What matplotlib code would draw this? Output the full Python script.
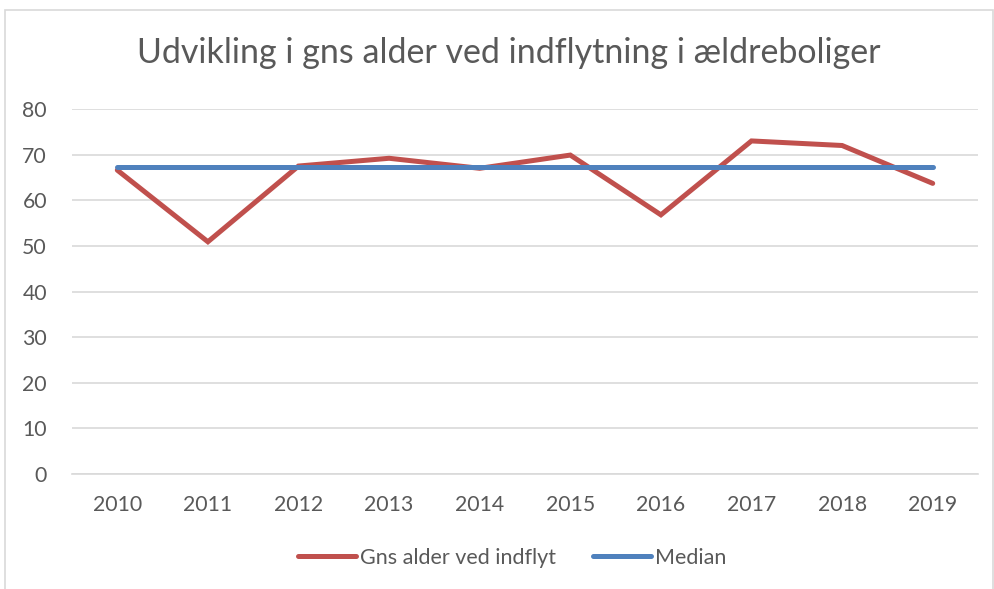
import matplotlib.pyplot as plt
from matplotlib.patches import Rectangle

years = ['2010', '2011', '2012', '2013', '2014', '2015', '2016', '2017', '2018', '2019']
gns_alder = [66.6, 50.9, 67.5, 69.2, 67.0, 69.9, 56.8, 73.0, 72.0, 63.7]
median = [67.2] * len(years)

plt.rcParams['font.family'] = ['Lato', 'DejaVu Sans']

fig = plt.figure(figsize=(9.94, 5.89), dpi=100)
ax = fig.add_axes([72 / 994, 1 - 474 / 589, 906 / 994, 365 / 589])

# chart border
fig.patches.append(Rectangle((5 / 994, -0.01), 988 / 994, 1 - 10 / 589 + 0.01,
                             transform=fig.transFigure, fill=False,
                             edgecolor='#d9d9d9', linewidth=1.2))

x = range(len(years))
ax.plot(x, gns_alder, color='#c0504d', linewidth=3.6, label='Gns alder ved indflyt',
        solid_capstyle='round', solid_joinstyle='miter')
ax.plot(x, median, color='#4f81bd', linewidth=3.6, label='Median', solid_capstyle='round')

ax.set_xlim(-0.5, len(years) - 0.5)
ax.set_ylim(0, 80)
ax.set_yticks(range(0, 81, 10))
ax.set_xticks(list(x))
ax.set_xticklabels(years)
ax.grid(axis='y', color='#d9d9d9', linewidth=1.2)
ax.set_axisbelow(True)
for s in ['top', 'right', 'left']:
    ax.spines[s].set_visible(False)
ax.spines['bottom'].set_color('#d9d9d9')
ax.spines['bottom'].set_linewidth(1.2)
ax.tick_params(length=0, labelsize=15.3, colors='#595959', pad=15)
ax.tick_params(axis='y', pad=18)

fig.text(509 / 994, 1 - 53 / 589, 'Udvikling i gns alder ved indflytning i ældreboliger',
         ha='center', va='center', fontsize=24.5, color='#595959')

fig.legend(loc='center', bbox_to_anchor=(512 / 994, 1 - 558 / 589), ncol=2, frameon=False,
           fontsize=15.5, labelcolor='#595959', handlelength=2.7, handletextpad=0.2,
           columnspacing=1.7)

fig.savefig('out.png', dpi=100)
